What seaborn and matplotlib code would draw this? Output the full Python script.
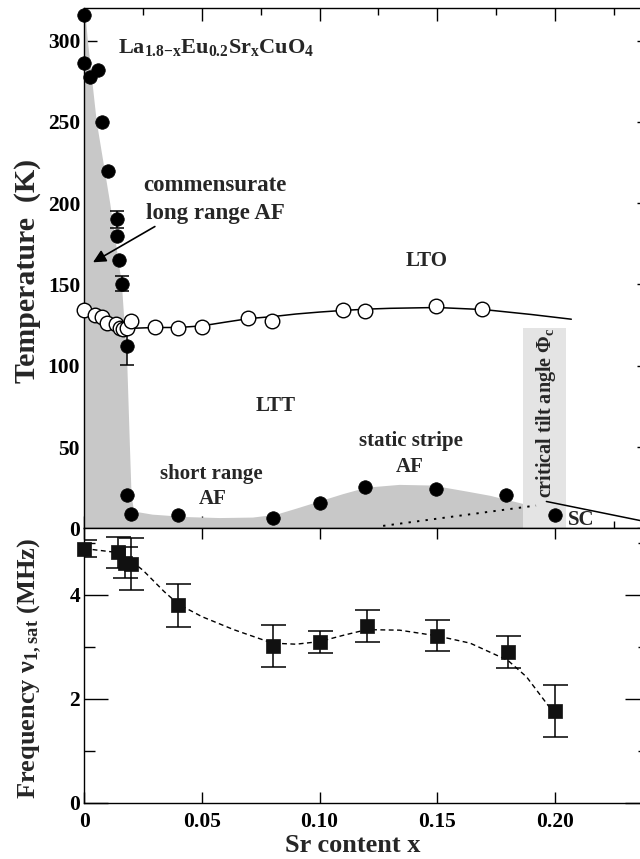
import matplotlib
matplotlib.use("Agg")
import matplotlib.pyplot as plt
from matplotlib.ticker import MultipleLocator, FixedLocator, FixedFormatter
import pandas as pd
import seaborn as sns

# ---------------- data ----------------
# magnetic ordering / freezing temperatures (filled circles)
x_af = [0.0, 0.0, 0.0024, 0.0057, 0.0075, 0.0099, 0.014, 0.014, 0.0148, 0.0162,
        0.018, 0.018, 0.020, 0.040, 0.080, 0.100, 0.1195, 0.1494, 0.1794, 0.200]
t_af = [316, 286, 277.6, 282, 249.6, 220, 190, 180, 165, 150.5,
        112.2, 20.2, 8.9, 7.9, 6.3, 15.5, 25.3, 24.3, 20.2, 7.9]
# points of the set above that carry error bars
x_af_err = [0.014, 0.0162, 0.018]
t_af_err = [190, 150.5, 112.2]
d_af_err = [5, 4.6, 12]

# LTO -> LTT structural transition (open circles)
x_lto = [0.0, 0.0045, 0.0074, 0.0098, 0.0133, 0.0152, 0.0166, 0.018, 0.0198, 0.030,
         0.0397, 0.0499, 0.0697, 0.0796, 0.110, 0.1195, 0.1494, 0.1692]
t_lto = [134.5, 131, 130, 126, 125.5, 123.5, 122.5, 123.5, 127.5, 124,
         122.9, 124, 129.2, 127.2, 134.5, 133.5, 137, 134.7]
# guide to the eye through the transition
x_lto_line = [0.016, 0.02, 0.03, 0.04, 0.05, 0.06, 0.07, 0.08, 0.09, 0.10, 0.11,
              0.12, 0.13, 0.15, 0.17, 0.19, 0.207]
t_lto_line = [123, 123, 123.5, 123.5, 124.5, 126.8, 129, 130.2, 131.8, 133, 134,
              134.8, 135.3, 135.8, 134.5, 131.5, 128.6]

# boundary of the antiferromagnetic (shaded) region
x_af_area = [0.0, 0.0003, 0.0015, 0.0053, 0.011, 0.016, 0.0183, 0.0194, 0.0201, 0.021,
             0.0225, 0.029, 0.0435, 0.0576, 0.0717, 0.0817, 0.090, 0.100, 0.110, 0.120,
             0.134, 0.148, 0.163, 0.1725, 0.1865, 0.1865, 0.0]
t_af_area = [320, 320, 300, 250, 200, 150, 100, 50, 20, 12,
             10, 8.4, 6.9, 6.3, 6.6, 8.4, 12, 16.5, 21, 25,
             26.7, 26.3, 22.5, 20, 15, 0, 0]

# critical tilt angle band
x_tilt = [0.1865, 0.2046]
t_tilt = 123

# superconducting boundary: dotted and solid parts
x_sc_dot = [0.127, 0.192]
t_sc_dot = [1.5, 14]
x_sc_line = [0.1964, 0.245]
t_sc_line = [16.5, 2.2]

# muon precession frequency (squares)
x_nu = [0.0, 0.0145, 0.0175, 0.020, 0.040, 0.080, 0.100, 0.120, 0.150, 0.180, 0.200]
nu = [4.89, 4.82, 4.62, 4.60, 3.80, 3.01, 3.10, 3.40, 3.21, 2.90, 1.76]
d_nu = [0.16, 0.30, 0.30, 0.50, 0.41, 0.40, 0.21, 0.30, 0.30, 0.30, 0.50]
# guide to the eye through the frequencies
x_nu_line = [0.0, 0.013, 0.02, 0.025, 0.034, 0.04, 0.05, 0.0635, 0.08, 0.09, 0.10,
             0.11, 0.12, 0.134, 0.15, 0.164, 0.18, 0.188, 0.198]
nu_line = [4.89, 4.82, 4.65, 4.47, 4.06, 3.82, 3.58, 3.33, 3.07, 3.05, 3.10,
           3.22, 3.33, 3.32, 3.21, 3.07, 2.74, 2.42, 1.82]

x_ticks = [0.0, 0.05, 0.10, 0.15, 0.20]
x_tick_labels = ["0", "0.05", "0.10", "0.15", "0.20"]
t_ticks = [0, 50, 100, 150, 200, 250, 300]
t_tick_labels = ["0", "50", "100", "150", "200", "250", "300"]
nu_ticks = [0, 2, 4]
nu_tick_labels = ["0", "2", "4"]

# ---------------- style ----------------
sns.set_theme(style="ticks")
plt.rcParams["font.family"] = ["Liberation Serif", "DejaVu Serif"]
plt.rcParams.update({
    "font.weight": "bold",
    "axes.labelweight": "bold",
    "mathtext.fontset": "custom",
    "mathtext.rm": "Liberation Serif:bold",
    "mathtext.it": "Liberation Serif:bold",
    "mathtext.bf": "Liberation Serif:bold",
    "mathtext.default": "regular",
    "axes.linewidth": 1.0,
    "axes.edgecolor": "black",
    "xtick.color": "black",
    "ytick.color": "black",
})

DARK = "#c8c8c8"
LIGHT = "#e4e4e4"
TICK_FS = 15.5

fig = plt.figure(figsize=(6.4, 8.59), dpi=100)
ax1 = fig.add_axes([0.1317, 0.38498, 0.8823, 0.6057])
ax2 = fig.add_axes([0.1317, 0.06554, 0.8823, 0.31944])

# ---------------- upper panel: phase diagram ----------------
ax1.fill(x_af_area, t_af_area, color=DARK, lw=0, zorder=1)
ax1.fill_between(x_tilt, 0, t_tilt, color=LIGHT, lw=0, zorder=1)

sns.lineplot(x=x_lto_line, y=t_lto_line, ax=ax1, color="black", lw=1.1,
             sort=False, estimator=None, zorder=3)
sns.lineplot(x=x_sc_dot, y=t_sc_dot, ax=ax1, color="black", lw=1.4,
             linestyle=(0, (1.2, 3.2)), sort=False, estimator=None, zorder=3)
sns.lineplot(x=x_sc_line, y=t_sc_line, ax=ax1, color="black", lw=1.1,
             sort=False, estimator=None, zorder=3)

ax1.errorbar(x_af_err, t_af_err, yerr=d_af_err, fmt="none", ecolor="black",
             elinewidth=1.1, capsize=5, capthick=1.1, zorder=4)

df_lto = pd.DataFrame({"x": x_lto, "T": t_lto})
sns.scatterplot(data=df_lto, x="x", y="T", ax=ax1, color="white",
                edgecolor="black", linewidth=1.0, s=110, marker="o",
                zorder=5, clip_on=False, legend=False)
df_af = pd.DataFrame({"x": x_af, "T": t_af})
sns.scatterplot(data=df_af, x="x", y="T", ax=ax1, color="black",
                edgecolor="black", linewidth=0.5, s=95, marker="o",
                zorder=6, clip_on=False, legend=False)

ax1.set_xlim(0, 0.24)
ax1.set_ylim(0, 320)
ax1.xaxis.set_major_locator(MultipleLocator(0.05))
ax1.xaxis.set_minor_locator(MultipleLocator(0.025))
ax1.yaxis.set_major_locator(FixedLocator(t_ticks))
ax1.yaxis.set_major_formatter(FixedFormatter(t_tick_labels))
ax1.yaxis.set_minor_locator(MultipleLocator(25))
ax1.tick_params(which="both", direction="in", top=True, right=True,
                labelbottom=False, width=1.0)
ax1.tick_params(which="major", length=9, pad=3, labelsize=TICK_FS)
ax1.tick_params(which="minor", length=5)
ax1.set_xlabel("")
ax1.set_ylabel("Temperature  (K)", fontsize=21.5, fontweight="bold")
ax1.yaxis.set_label_coords(-0.077, 0.495)

# annotations
ax1.text(0.0143, 292.4,
         r"La$_{1.8{-}x}$Eu$_{0.2}$Sr$_{x}$CuO$_{4}$",
         fontsize=16, fontweight="bold", ha="left", va="baseline", zorder=7)
ax1.text(0.0556, 207.3, "commensurate", fontsize=16.5, fontweight="bold",
         ha="center", va="baseline", zorder=7)
ax1.text(0.0556, 190, "long range AF", fontsize=16.5, fontweight="bold",
         ha="center", va="baseline", zorder=7)
ax1.annotate("", xy=(0.0037, 163.6), xytext=(0.030, 185.6),
             arrowprops=dict(arrowstyle="-|>", color="black", lw=1.2,
                             mutation_scale=19, shrinkA=0, shrinkB=0),
             zorder=7)
ax1.text(0.1455, 161.3, "LTO", fontsize=15, fontweight="bold",
         ha="center", va="baseline", zorder=7)
ax1.text(0.0814, 72.3, "LTT", fontsize=15, fontweight="bold",
         ha="center", va="baseline", zorder=7)
ax1.text(0.054, 30.4, "short range", fontsize=15, fontweight="bold",
         ha="center", va="baseline", zorder=7)
ax1.text(0.0545, 15.1, "AF", fontsize=15, fontweight="bold",
         ha="center", va="baseline", zorder=7)
ax1.text(0.1387, 50.9, "static stripe", fontsize=15, fontweight="bold",
         ha="center", va="baseline", zorder=7)
ax1.text(0.1384, 34.9, "AF", fontsize=15, fontweight="bold",
         ha="center", va="baseline", zorder=7)
ax1.text(0.1962, 71, r"critical tilt angle $\Phi_{c}$", fontsize=14.5,
         fontweight="bold", rotation=90, ha="center", va="center", zorder=7)
ax1.text(0.2056, 1.8, "SC", fontsize=15, fontweight="bold",
         ha="left", va="baseline", zorder=7)

# ---------------- lower panel: frequency ----------------
sns.lineplot(x=x_nu_line, y=nu_line, ax=ax2, color="black", lw=1.0,
             linestyle=(0, (3.5, 2.5)), sort=False, estimator=None, zorder=3)
ax2.errorbar(x_nu, nu, yerr=d_nu, fmt="none", ecolor="black",
             elinewidth=1.1, capsize=9, capthick=1.1, zorder=4)
df_nu = pd.DataFrame({"x": x_nu, "nu": nu})
sns.scatterplot(data=df_nu, x="x", y="nu", ax=ax2, color="#111111",
                edgecolor="#111111", linewidth=0.5, s=88, marker="s",
                zorder=5, clip_on=False, legend=False)

ax2.set_xlim(0, 0.24)
ax2.set_ylim(0, 5.28)
ax2.xaxis.set_major_locator(FixedLocator(x_ticks))
ax2.xaxis.set_major_formatter(FixedFormatter(x_tick_labels))
ax2.yaxis.set_major_locator(FixedLocator(nu_ticks))
ax2.yaxis.set_major_formatter(FixedFormatter(nu_tick_labels))
ax2.yaxis.set_minor_locator(MultipleLocator(1))
ax2.tick_params(which="both", direction="in", top=True, right=True, width=1.0)
ax2.tick_params(axis="x", which="major", length=8, pad=7, labelsize=TICK_FS)
ax2.tick_params(axis="y", which="major", length=17, pad=3, labelsize=TICK_FS)
ax2.tick_params(axis="y", which="minor", length=8)
ax2.set_xlabel("Sr content x", fontsize=19, fontweight="bold")
ax2.xaxis.set_label_coords(0.476, -0.18)
ax2.xaxis.label.set_verticalalignment("baseline")
ax2.set_ylabel(r"Frequency ν$_{1,sat}$ (MHz)", fontsize=19, fontweight="bold")
ax2.yaxis.set_label_coords(-0.072, 0.489)

fig.savefig("out.png", dpi=100)
